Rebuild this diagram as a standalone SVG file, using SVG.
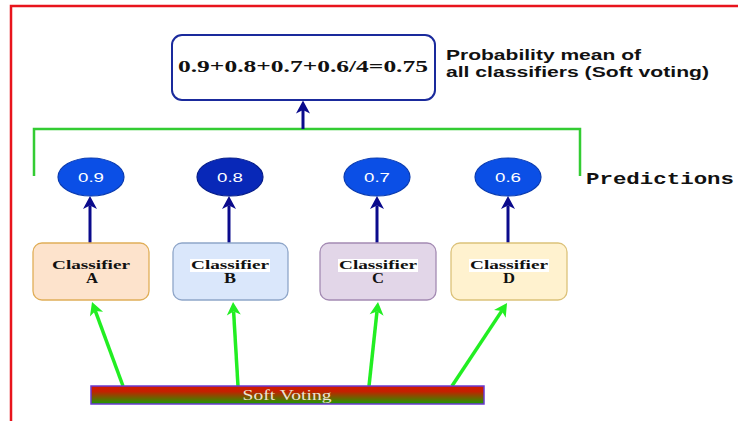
<svg xmlns="http://www.w3.org/2000/svg" width="738" height="421" viewBox="0 0 738 421">
  <defs>
    <linearGradient id="barFill" x1="0" y1="0" x2="0" y2="1">
      <stop offset="0" stop-color="#d41800"/>
      <stop offset="0.3" stop-color="#c42000"/>
      <stop offset="1" stop-color="#1a9e00"/>
    </linearGradient>
    <marker id="headNavy" markerUnits="userSpaceOnUse" viewBox="-5 -8 16 16" refX="0" refY="0" markerWidth="16" markerHeight="16" orient="auto">
      <path d="M9.5,0 L-3.5,-7 L0,0 L-3.5,7 Z" fill="#0a0a8c"/>
    </marker>
    <marker id="headGreen" markerUnits="userSpaceOnUse" viewBox="-5 -8 16 16" refX="0" refY="0" markerWidth="16" markerHeight="16" orient="auto">
      <path d="M9.5,0 L-3.5,-7 L0,0 L-3.5,7 Z" fill="#22ee22"/>
    </marker>
  </defs>
  <style>
    .navy { stroke: #0a0a8c; stroke-width: 3; fill: none; marker-end: url(#headNavy); }
    .green { stroke: #22ee22; stroke-width: 3.5; fill: none; marker-end: url(#headGreen); }
    .pred { fill: #0b4fe6; stroke: #0a3bb0; stroke-width: 1.2; }
    .pred.dark { fill: #0828b8; stroke: #061d8a; }
    .val { font-family: "Liberation Sans", Arial, sans-serif; font-size: 13px; fill: #ffffff; text-anchor: middle; }
    .clf { stroke-width: 1.3; }
    .clfText { font-family: "Liberation Serif", "Times New Roman", serif; font-weight: bold; font-size: 13px; fill: #111111; text-anchor: middle; }
    .clfLetter { font-family: "Liberation Serif", "Times New Roman", serif; font-weight: bold; font-size: 14px; fill: #111111; text-anchor: middle; }
    .note { font-family: "Liberation Sans", Arial, sans-serif; font-weight: bold; font-size: 14px; fill: #111111; }
  </style>

  <!-- frame -->
  <path d="M11,421 V6 H738" fill="none" stroke="#e8141c" stroke-width="2.5"/>

  <!-- connectors -->
  <g id="connectors">
    <path d="M34,176 V129 H580 V176" fill="none" stroke="#33cc33" stroke-width="2.5"/>
    <line class="navy" x1="303" y1="129" x2="303" y2="110"/>
    <line class="navy" x1="90" y1="243" x2="90" y2="205.5"/>
    <line class="navy" x1="229" y1="243" x2="229" y2="205.5"/>
    <line class="navy" x1="377" y1="243" x2="377" y2="205.5"/>
    <line class="navy" x1="508" y1="243" x2="508" y2="205.5"/>
    <line class="green" x1="123" y1="386" x2="95.3" y2="310.9"/>
    <line class="green" x1="238" y1="386" x2="233.6" y2="311.5"/>
    <line class="green" x1="369" y1="386" x2="377" y2="311.4"/>
    <line class="green" x1="452" y1="386" x2="501.8" y2="310.9"/>
  </g>

  <!-- mean of probabilities -->
  <g id="mean">
    <rect x="172" y="35" width="263" height="65" rx="10" fill="#ffffff" stroke="#1a2a9c" stroke-width="2"/>
    <text x="303" y="72" font-family="Liberation Serif, 'Times New Roman', serif" font-weight="bold" font-size="16" fill="#111111" text-anchor="middle" textLength="250" lengthAdjust="spacingAndGlyphs">0.9+0.8+0.7+0.6/4=0.75</text>
  </g>
  <g id="mean-label">
    <text class="note" x="446" y="60" textLength="195" lengthAdjust="spacingAndGlyphs">Probability mean of</text>
    <text class="note" x="446" y="77" textLength="263" lengthAdjust="spacingAndGlyphs">all classifiers (Soft voting)</text>
  </g>

  <!-- predictions -->
  <g id="pred-a">
    <ellipse class="pred" cx="91" cy="177" rx="33" ry="19"/>
    <text class="val" x="91" y="182" textLength="26" lengthAdjust="spacingAndGlyphs">0.9</text>
  </g>
  <g id="pred-b">
    <ellipse class="pred dark" cx="230" cy="177" rx="33" ry="19"/>
    <text class="val" x="230" y="182" textLength="26" lengthAdjust="spacingAndGlyphs">0.8</text>
  </g>
  <g id="pred-c">
    <ellipse class="pred" cx="377" cy="177" rx="33" ry="19"/>
    <text class="val" x="377" y="182" textLength="26" lengthAdjust="spacingAndGlyphs">0.7</text>
  </g>
  <g id="pred-d">
    <ellipse class="pred" cx="508" cy="177" rx="33" ry="19"/>
    <text class="val" x="508" y="182" textLength="26" lengthAdjust="spacingAndGlyphs">0.6</text>
  </g>
  <g id="predictions-label">
    <text x="586" y="184" font-family="Liberation Mono, 'Courier New', monospace" font-weight="bold" font-size="16" fill="#111111" textLength="148" lengthAdjust="spacingAndGlyphs">Predictions</text>
  </g>

  <!-- classifiers -->
  <g id="classifier-a">
    <rect class="clf" x="33" y="243" width="116" height="57" rx="9" fill="#fde3cc" stroke="#e0ae58"/>
    <text class="clfText" x="91" y="269" textLength="78" lengthAdjust="spacingAndGlyphs">Classifier</text>
    <text class="clfLetter" x="92" y="283" textLength="12" lengthAdjust="spacingAndGlyphs">A</text>
  </g>
  <g id="classifier-b">
    <rect class="clf" x="173" y="243" width="115" height="57" rx="9" fill="#dae7fb" stroke="#8fa6c9"/>
    <rect x="190" y="259" width="80" height="13" fill="#ffffff"/>
    <text class="clfText" x="230" y="269" textLength="78" lengthAdjust="spacingAndGlyphs">Classifier</text>
    <text class="clfLetter" x="230" y="283" textLength="12" lengthAdjust="spacingAndGlyphs">B</text>
  </g>
  <g id="classifier-c">
    <rect class="clf" x="320" y="243" width="116" height="57" rx="9" fill="#e2d6e8" stroke="#a48bb3"/>
    <rect x="338" y="259" width="80" height="13" fill="#ffffff"/>
    <text class="clfText" x="378" y="269" textLength="78" lengthAdjust="spacingAndGlyphs">Classifier</text>
    <text class="clfLetter" x="378" y="283" textLength="12" lengthAdjust="spacingAndGlyphs">C</text>
  </g>
  <g id="classifier-d">
    <rect class="clf" x="451" y="243" width="116" height="57" rx="9" fill="#fff2cf" stroke="#dcc27a"/>
    <rect x="469" y="259" width="80" height="13" fill="#ffffff"/>
    <text class="clfText" x="509" y="269" textLength="78" lengthAdjust="spacingAndGlyphs">Classifier</text>
    <text class="clfLetter" x="509" y="283" textLength="12" lengthAdjust="spacingAndGlyphs">D</text>
  </g>

  <!-- soft voting bar -->
  <g id="soft-voting">
    <rect x="91" y="386" width="393" height="18" fill="url(#barFill)" stroke="#6a3ad0" stroke-width="1.5"/>
    <text x="287" y="400" font-family="Liberation Serif, 'Times New Roman', serif" font-size="14" fill="#ece4d4" text-anchor="middle" textLength="89" lengthAdjust="spacingAndGlyphs">Soft Voting</text>
  </g>
</svg>
